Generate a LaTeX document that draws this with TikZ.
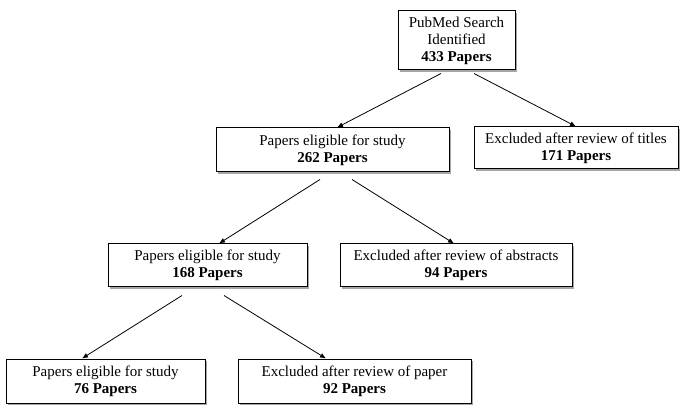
\documentclass[tikz,border=0pt]{standalone}
\usepackage{fontspec}
\setmainfont{Liberation Serif}
\usetikzlibrary{arrows.meta,shadows}
\tikzset{
  flowarrow/.style={-{Latex[length=6pt,width=5pt]}, line width=0.8pt, draw=black},
  paperbox/.style={draw=black, fill=white, line width=1pt, align=center, inner sep=0pt,
    font=\fontsize{15}{17}\selectfont,
    drop shadow={shadow xshift=2pt, shadow yshift=-2pt, fill=black!35, opacity=1}},
}
\begin{document}
\begin{tikzpicture}[x=1pt,y=-1pt]
\path[use as bounding box] (0,0) rectangle (685,411);

% search result
\node[paperbox,minimum width=117pt,minimum height=59pt] (search) at (456.5,40.5) {PubMed Search\\Identified\\\textbf{433 Papers}};

% title screening
\node[paperbox,minimum width=233pt,minimum height=44pt] (elig1) at (332.5,150) {Papers eligible for study\\\textbf{262 Papers}};
\node[paperbox,minimum width=204pt,minimum height=42pt] (titles) at (576,148) {Excluded after review of titles\\\textbf{171 Papers}};

% abstract screening
\node[paperbox,minimum width=199pt,minimum height=43pt] (elig2) at (207.5,265.5) {Papers eligible for study\\\textbf{168 Papers}};
\node[paperbox,minimum width=232pt,minimum height=43pt] (abstracts) at (456,265.5) {Excluded after review of abstracts\\\textbf{94 Papers}};

% full paper review
\node[paperbox,minimum width=199pt,minimum height=44pt] (elig3) at (105.5,381) {Papers eligible for study\\\textbf{76 Papers}};
\node[paperbox,minimum width=233pt,minimum height=44pt] (paper) at (354.5,381) {Excluded after review of paper\\\textbf{92 Papers}};

\draw[flowarrow] ([xshift=-15.5pt,yshift=-3pt]search.south) -- ([xshift=4.5pt]elig1.north);
\draw[flowarrow] ([xshift=17.5pt,yshift=-3pt]search.south) -- (titles.north);
\draw[flowarrow] ([xshift=-12.5pt,yshift=-7pt]elig1.south) -- ([xshift=11.5pt]elig2.north);
\draw[flowarrow] ([xshift=19.5pt,yshift=-7pt]elig1.south) -- ([xshift=-2pt]abstracts.north);
\draw[flowarrow] ([xshift=-25.5pt,yshift=-8pt]elig2.south) -- ([xshift=-23.5pt]elig3.north);
\draw[flowarrow] ([xshift=16.5pt,yshift=-8pt]elig2.south) -- ([xshift=-28.5pt]paper.north);
\end{tikzpicture}
\end{document}
